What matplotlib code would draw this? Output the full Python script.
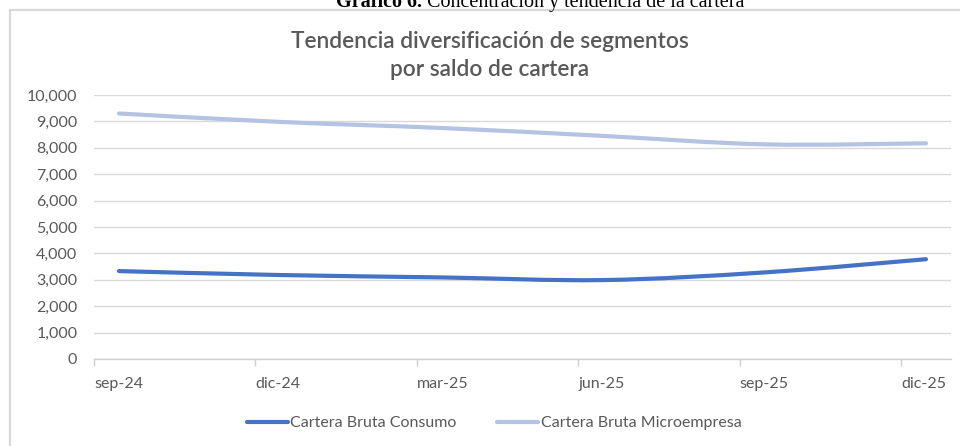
import matplotlib
matplotlib.use("Agg")
import matplotlib.pyplot as plt
from matplotlib.path import Path
from matplotlib.patches import PathPatch
from matplotlib.lines import Line2D
from matplotlib.ticker import StrMethodFormatter
import numpy as np

# ---- data ----
periods = ["sep-24", "dic-24", "mar-25", "jun-25", "sep-25", "dic-25"]
consumo = [3330, 3180, 3090, 2990, 3280, 3780]
microempresa = [9300, 8980, 8750, 8450, 8130, 8170]
series_names = ["Cartera Bruta Consumo", "Cartera Bruta Microempresa"]
series_colors = ["#4472C4", "#B4C2E4"]
caption_bold = "Gráfico 6."
caption_rest = " Concentración y tendencia de la cartera"

FONT = ["Lato", "DejaVu Sans"]
plt.rcParams["font.family"] = FONT
GRAY = "#595959"
SERIF = ["Liberation Serif", "DejaVu Serif"]

W, H = 960, 446
fig = plt.figure(figsize=(W / 100, H / 100), dpi=100)

def fx(px):
    return px / W

def fy(py):
    return 1 - py / H

# chart frame (top and left visible)
fig.add_artist(Line2D([fx(10), fx(10)], [fy(10), fy(460)], color="#D9D9D9", lw=1.6,
                      transform=fig.transFigure))
fig.add_artist(Line2D([fx(10), fx(980)], [fy(10), fy(10)], color="#D9D9D9", lw=1.6,
                      transform=fig.transFigure))

# caption partially cut at top (as in the reference)
CAP_FS = 14.5
t1 = fig.text(fx(538), fy(7), caption_bold + caption_rest, ha="center", va="baseline",
              fontsize=CAP_FS, family=SERIF, alpha=0)
fig.canvas.draw()
r = fig.canvas.get_renderer()
bb = t1.get_window_extent(r)
tb = fig.text(bb.x0 / W, fy(7), caption_bold, ha="left", va="baseline", fontsize=CAP_FS,
              fontweight="bold", family=SERIF, color="black")
bb2 = tb.get_window_extent(r)
fig.text(bb2.x1 / W, fy(7), caption_rest, ha="left", va="baseline", fontsize=CAP_FS,
         family=SERIF, color="black")

# chart title
fig.text(fx(490), fy(42), "Tendencia diversificación de segmentos", ha="center", va="center",
         fontsize=16.3, color=GRAY, fontweight="semibold")
fig.text(fx(490), fy(70), "por saldo de cartera", ha="center", va="center",
         fontsize=16.3, color=GRAY, fontweight="semibold")

ax = fig.add_axes([fx(94), fy(359), fx(951) - fx(94), fy(95) - fy(359)])
x = np.arange(len(periods))
offset = 0.155
ax.set_xlim(-offset, len(periods) - 1 + offset)
ax.set_ylim(0, 10000)


def smooth_path(xs, ys):
    pts = np.column_stack([xs, ys]).astype(float)
    n = len(pts)
    verts = [pts[0]]
    codes = [Path.MOVETO]
    for i in range(n - 1):
        p0 = pts[i - 1] if i > 0 else pts[i]
        p1 = pts[i]
        p2 = pts[i + 1]
        p3 = pts[i + 2] if i + 2 < n else pts[i + 1]
        c1 = p1 + (p2 - p0) / 6.0
        c2 = p2 - (p3 - p1) / 6.0
        verts += [c1, c2, p2]
        codes += [Path.CURVE4] * 3
    return Path(verts, codes)


for vals, col in zip([consumo, microempresa], series_colors):
    patch = PathPatch(smooth_path(x, vals), facecolor="none", edgecolor=col, lw=3.0,
                      capstyle="round", joinstyle="round", zorder=3)
    ax.add_patch(patch)

ax.set_yticks(np.arange(0, 10001, 1000))
ax.yaxis.set_major_formatter(StrMethodFormatter("{x:,.0f}"))
ax.grid(axis="y", color="#D9D9D9", lw=1.0)
ax.set_axisbelow(True)
for s in ["top", "right", "left"]:
    ax.spines[s].set_visible(False)
ax.spines["bottom"].set_color("#D0D0D0")
ax.spines["bottom"].set_linewidth(1.0)
ax.tick_params(axis="y", length=0, pad=12, labelsize=11.5, labelcolor=GRAY)
ax.set_xticks(x - offset)
ax.set_xticklabels(periods)
ax.tick_params(axis="x", length=5, color="#D0D0D0", width=1.0, pad=8,
               labelsize=11.5, labelcolor=GRAY)
for lbl in ax.get_xticklabels():
    lbl.set_ha("left")

handles = [Line2D([], [], color=c, lw=3.0, solid_capstyle="round") for c in series_colors]
fig.legend(handles, series_names, loc="center", bbox_to_anchor=(fx(494), fy(423)), ncol=2,
           frameon=False, fontsize=11.5, labelcolor=GRAY, handlelength=2.6,
           handletextpad=0.15, columnspacing=2.5)

fig.savefig("out.png", dpi=100)
